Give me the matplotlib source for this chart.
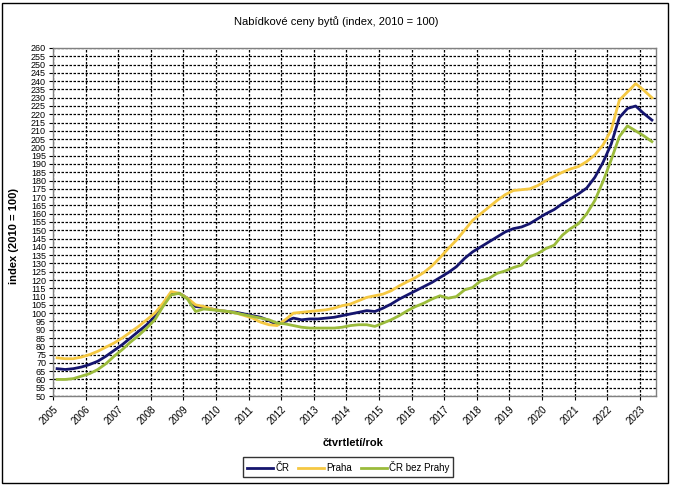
import matplotlib
matplotlib.use("Agg")
import matplotlib.pyplot as plt
from matplotlib.patches import Rectangle

plt.rcParams['font.family'] = ['Liberation Sans', 'DejaVu Sans']

# quarterly values 2005Q1 .. 2023Q2
cr = [66.5, 66, 66.5, 67.5, 69, 71, 74, 77.5, 81, 85, 89, 93, 98, 105, 111.5, 112,
      109, 104, 103.5, 102.5, 101.5, 101, 100.5, 99.5, 98.5, 97.5, 95.5, 93, 95, 97,
      96, 96.5, 96.5, 97, 97.5, 98.5, 99.5, 100.5, 101.5, 101, 103, 105.5, 108.5, 111,
      113.5, 116, 118.5, 121.5, 124.5, 128, 133, 137, 140, 143, 146, 149, 151, 152,
      154, 157, 160, 162.5, 166, 169, 172, 175.5, 182, 191, 202, 218, 223.5, 225,
      220.5, 216.5]
praha = [73, 72.5, 72.5, 73.5, 75, 77, 79.5, 82, 85, 88.5, 92, 96, 100, 106, 113, 112,
         109, 105, 104, 102.5, 101.5, 101, 100, 98.5, 97, 94.5, 93, 92.5, 96, 100,
         100.5, 101, 101.5, 102, 103, 104.5, 105.5, 107.5, 109.5, 110.5, 111.5, 113.5,
         116.5, 119, 121.5, 124.5, 128.5, 133.5, 139, 144, 150, 156, 160, 164, 168,
         171.5, 174, 174.5, 175, 177, 180, 182.5, 185, 187, 188.5, 191.5, 195.5, 201.5,
         210.5, 228.5, 233.5, 238.5, 234.5, 230]
cr_bez_prahy = [60, 60, 60.5, 62, 63.5, 66, 69.5, 74, 78, 82.5, 86.5, 91, 96, 104, 111, 112,
                108.5, 101, 102.5, 102, 101.5, 101, 100, 99, 98, 97, 96, 94, 93.5, 92.5,
                91.5, 91, 91, 91, 91, 91.5, 92.5, 93, 93, 92, 94, 96, 98.5, 101.5, 104,
                106, 108.5, 110.5, 109, 110, 114, 115.5, 119.5, 121, 124, 125.5, 127.5,
                129, 134, 136, 139, 141, 147, 151, 154, 160, 168, 179.5, 192.5, 206.5,
                213, 210, 207, 203.5]
years = list(range(2005, 2024))
first_year = 2005

# points sit in the middle of each quarter
x = [first_year + (i + 0.5) / 4 for i in range(len(cr))]

fig = plt.figure(figsize=(6.73, 4.87), dpi=100)
ax = fig.add_axes([53 / 673, 1 - 396 / 487, 603 / 673, 348 / 487])

ax.plot(x, cr, color='#15156e', lw=2, label='ČR', zorder=3)
ax.plot(x, praha, color='#f5c842', lw=2, label='Praha', zorder=3)
ax.plot(x, cr_bez_prahy, color='#9bbb3b', lw=2, label='ČR bez Prahy', zorder=3)

ax.set_xlim(first_year, first_year + len(cr) / 4)
ax.set_ylim(50, 260)
ax.set_yticks(range(50, 261, 5))
ax.tick_params(axis='y', labelsize=6.5, length=3, pad=2)
ax.set_xticks(years)
ax.set_xticklabels([str(y) for y in years], rotation=45, ha='right',
                   rotation_mode='anchor', fontsize=7)
ax.tick_params(axis='x', length=3, pad=3)

ax.grid(True, color='black', linestyle=(0, (2, 1.2)), linewidth=0.9)
for s in ax.spines.values():
    s.set_color('#808080')
    s.set_linewidth(1)

fig.text(336 / 673, 1 - 22 / 487, 'Nabídkové ceny bytů (index, 2010 = 100)',
         ha='center', va='center', fontsize=8)
fig.text(14 / 673, 1 - 236 / 487, 'index (2010 = 100)', rotation=90,
         ha='center', va='center', fontsize=8, fontweight='bold')
fig.text(353 / 673, 1 - 443 / 487, 'čtvrtletí/rok', ha='center', va='center',
         fontsize=8, fontweight='bold')

leg = fig.legend(loc='center', bbox_to_anchor=(348 / 673, 1 - 467 / 487), ncol=3,
                 fontsize=7, frameon=True, fancybox=False, handlelength=2.7,
                 columnspacing=0.9, handletextpad=0.2, borderpad=0.45,
                 borderaxespad=0)
leg.get_frame().set_edgecolor('black')
leg.get_frame().set_linewidth(1)

fig.patches.append(Rectangle((2 / 673, 4 / 487), 666 / 673, 480 / 487,
                             transform=fig.transFigure, fill=False,
                             edgecolor='black', linewidth=1))

fig.savefig('out.png', dpi=100)
